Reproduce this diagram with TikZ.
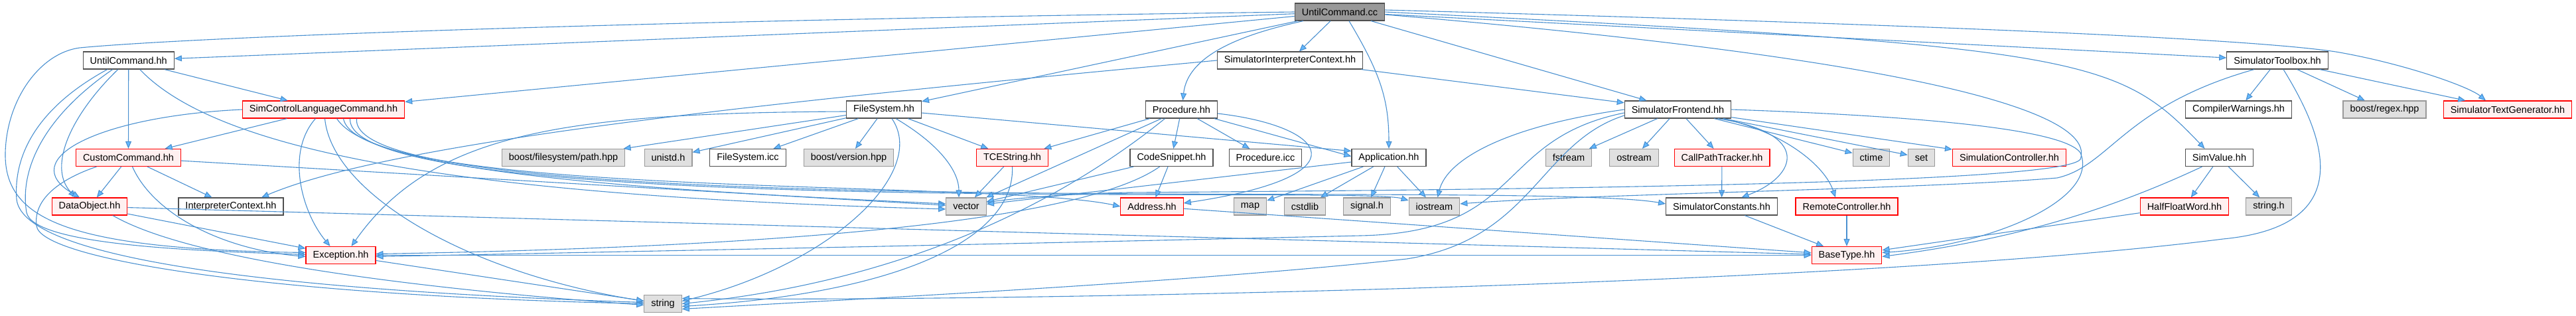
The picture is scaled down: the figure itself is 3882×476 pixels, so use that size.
\documentclass[tikz,border=0pt]{standalone}
\usepackage{fontspec}
\setmainfont{Liberation Sans}
\usetikzlibrary{positioning,arrows.meta}

\definecolor{edgeblue}{HTML}{4A90D0}
\definecolor{tipblue}{HTML}{63B8FF}
\definecolor{boxline}{HTML}{505050}
\definecolor{sysline}{HTML}{999999}
\definecolor{sysfill}{HTML}{E0E0E0}
\definecolor{truncfill}{HTML}{FFF0F0}
\definecolor{rootfill}{HTML}{999999}

\begin{document}
\begin{tikzpicture}[x=1pt,y=1pt,on grid,
    file/.style={rectangle,draw=boxline,fill=white,line width=1.2pt,
        minimum height=26pt,inner xsep=10.5pt,inner ysep=0pt,
        font=\fontsize{14.5}{17}\selectfont},
    sysfile/.style={file,draw=sysline,fill=sysfill},
    trunc/.style={file,draw=red,fill=truncfill},
    srcfile/.style={file,fill=rootfill},
    dep/.style={color=edgeblue,line width=1.1pt,
        -{Triangle[length=11pt,width=9pt,fill=tipblue]}}]
    \useasboundingbox (0,0) rectangle (3882,-476);

    % rows of files
    \node[srcfile] (r) at (2019,-18) {UntilCommand.cc};

    \node[file] (uch) at (193.75,-91) {UntilCommand.hh};
    \node[file] (sic) [right=1750.25pt of uch] {SimulatorInterpreterContext.hh};
    \node[file] (stb) [right=1488pt of sic] {SimulatorToolbox.hh};

    \node[trunc] (sclc) at (487.5,-165) {SimControlLanguageCommand.hh};
    \node[file] (fs) [right=844.5pt of sclc] {FileSystem.hh};
    \node[file] (proc) [right=448.5pt of fs] {Procedure.hh};
    \node[file] (sfe) [right=748pt of proc] {SimulatorFrontend.hh};
    \node[file] (cw) [right=845pt of sfe] {CompilerWarnings.hh};
    \node[sysfile] (rgx) [right=220pt of cw] {boost/regex.hpp};
    \node[trunc] (stg) [right=185.5pt of rgx] {SimulatorTextGenerator.hh};

    \node[trunc] (cc) at (193.5,-237.5) {CustomCommand.hh};
    \node[sysfile] (bfp) [right=655.5pt of cc] {boost/filesystem/path.hpp};
    \node[sysfile] (unistd) [right=158pt of bfp] {unistd.h};
    \node[file] (fsicc) [right=120pt of unistd] {FileSystem.icc};
    \node[sysfile] (bver) [right=152pt of fsicc] {boost/version.hpp};
    \node[trunc] (tces) [right=246.5pt of bver] {TCEString.hh};
    \node[file] (csn) [right=240pt of tces] {CodeSnippet.hh};
    \node[file] (picc) [right=141.5pt of csn] {Procedure.icc};
    \node[file] (app) [right=186pt of picc] {Application.hh};
    \node[sysfile] (fst) [right=271pt of app] {fstream};
    \node[sysfile] (ost) [right=98.5pt of fst] {ostream};
    \node[trunc] (cpt) [right=132.5pt of ost] {CallPathTracker.hh};
    \node[sysfile] (ctime) [right=225pt of cpt] {ctime};
    \node[sysfile] (nset) [right=75.5pt of ctime] {set};
    \node[trunc] (simc) [right=132.5pt of nset] {SimulationController.hh};
    \node[file] (sv) [right=316.5pt of simc] {SimValue.hh};

    \node[trunc] (dobj) at (135,-311) {DataObject.hh};
    \node[file] (ictx) [right=213pt of dobj] {InterpreterContext.hh};
    \node[sysfile] (vec) [right=1108pt of ictx] {vector};
    \node[trunc] (addr) [right=280pt of vec] {Address.hh};
    \node[sysfile] (map) [right=148pt of addr] {map};
    \node[sysfile] (cstd) [right=82.5pt of map] {cstdlib};
    \node[sysfile] (sig) [right=93.5pt of cstd] {signal.h};
    \node[sysfile] (ios) [right=101.5pt of sig] {iostream};
    \node[file] (scon) [right=433pt of ios] {SimulatorConstants.hh};
    \node[trunc] (rc) [right=188.5pt of scon] {RemoteController.hh};
    \node[trunc] (hfw) [right=509pt of rc] {HalfFloatWord.hh};
    \node[sysfile] (strh) [right=127pt of hfw] {string.h};

    \node[trunc] (exc) at (513.5,-384.5) {Exception.hh};
    \node[trunc] (bt) [right=2269.5pt of exc] {BaseType.hh};

    \node[sysfile] (str) at (999,-457.5) {string};

    % UntilCommand.cc
    \path[dep]
    (r) edge (uch)
        edge (sclc)
        edge (fs)
        edge (sic)
        edge (sfe)
        edge (stb);
    \draw[dep] ([xshift=-55pt]r.south) .. controls (1880,-50) and (1790,-80) .. ([xshift=2pt]proc.north);
    \draw[dep] ([xshift=14pt]r.south) .. controls (2080,-110) and (2093,-150) .. (app.north);
    \draw[dep] (r.east) .. controls (3140,-70) and (3190,-85) .. ([xshift=-22pt]sv.north);
    \draw[dep] ([yshift=3pt]r.east) .. controls (3000,-40) and (3400,-60) .. (3520,-78)
        .. controls (3620,-95) and (3720,-130) .. ([xshift=-33pt]stg.north);
    \draw[dep] ([yshift=-4pt]r.east) .. controls (2900,-90) and (3160,-170) .. (3135,-240)
        .. controls (3110,-275) and (2400,-285) .. (1700,-290)
        .. controls (1600,-292) and (1520,-300) .. ([yshift=6pt]vec.east);
    \draw[dep] (r.west) .. controls (1000,-30) and (300,-55) .. (120,-72)
        .. controls (60,-80) and (10,-150) .. (8,-230)
        .. controls (6,-330) and (100,-375) .. ([yshift=4pt]exc.west);

    % UntilCommand.hh
    \path[dep]
    (uch) edge (sclc)
          edge (cc);
    \draw[dep] ([xshift=17pt]uch.south) .. controls (330,-230) and (700,-295) .. ([yshift=-4pt]vec.west);
    \draw[dep] ([xshift=-16pt]uch.south) .. controls (110,-170) and (70,-250) .. ([xshift=-21pt]dobj.north);
    \draw[dep] ([xshift=-24pt]uch.south) .. controls (60,-180) and (30,-260) .. (40,-320)
        .. controls (50,-370) and (300,-378) .. ([yshift=1pt]exc.west);
    \draw[dep] ([xshift=-32pt]uch.south) .. controls (60,-160) and (20,-230) .. (25,-300)
        .. controls (35,-400) and (500,-440) .. ([yshift=2pt]str.west);

    % SimControlLanguageCommand.hh
    \path[dep] (sclc) edge (cc);
    \draw[dep] (sclc.west) .. controls (150,-175) and (20,-240) .. ([xshift=-15pt]dobj.north);
    \draw[dep] ([xshift=-12pt]sclc.south) .. controls (430,-230) and (455,-320) .. ([xshift=-16pt]exc.north);
    \draw[dep] ([xshift=2pt]sclc.south) .. controls (500,-290) and (700,-410) .. ([yshift=4pt]str.west);
    \draw[dep] ([xshift=20pt]sclc.south) .. controls (560,-260) and (950,-285) .. ([yshift=4pt]vec.west);
    \draw[dep] ([xshift=30pt]sclc.south) .. controls (540,-300) and (1500,-270) .. (addr.west);
    \draw[dep] ([xshift=40pt]sclc.south) .. controls (520,-330) and (2050,-280) .. ([yshift=9pt]ios.west);
    \draw[dep] ([xshift=50pt]sclc.south) .. controls (520,-340) and (2300,-270) .. ([yshift=4pt]scon.west);

    % CustomCommand.hh
    \path[dep]
    (cc) edge (dobj)
         edge (ictx)
         edge (vec);
    \draw[dep] ([xshift=6pt]cc.south) .. controls (230,-320) and (330,-375) .. ([yshift=-2pt]exc.west);
    \draw[dep] ([xshift=-48pt]cc.south) .. controls (90,-270) and (50,-300) .. (55,-340)
        .. controls (60,-390) and (400,-445) .. (str.west);

    % DataObject.hh, Exception.hh
    \path[dep]
    (dobj) edge (exc)
           edge (bt)
    (exc) edge (str)
          edge (bt);
    \draw[dep] ([xshift=35pt]dobj.south) .. controls (300,-400) and (700,-440) .. ([yshift=-2pt]str.west);

    % SimulatorInterpreterContext.hh
    \path[dep] (sic) edge (sfe);
    \draw[dep] (sic.west) .. controls (1200,-150) and (600,-210) .. ([xshift=46pt]ictx.north);

    % FileSystem.hh
    \path[dep]
    (fs) edge (bfp)
         edge (unistd)
         edge (fsicc)
         edge (bver)
         edge (tces)
         edge ([yshift=10pt]app.west);
    \draw[dep] ([xshift=18pt]fs.south) .. controls (1420,-220) and (1445,-260) .. ([xshift=-11pt]vec.north);
    \draw[dep] ([xshift=12pt]fs.south) .. controls (1400,-260) and (1250,-400) .. ([yshift=4pt]str.east);
    \draw[dep] ([yshift=-3pt]fs.west) .. controls (850,-170) and (650,-200) .. ([xshift=16pt]exc.north);

    % Procedure.hh
    \path[dep]
    (proc) edge (tces)
           edge (vec)
           edge (csn)
           edge (picc)
           edge ([yshift=2pt]app.west);
    \draw[dep] ([xshift=-25pt]proc.south) .. controls (1630,-280) and (1400,-420) .. (str.east);
    \draw[dep] ([yshift=-6pt]proc.east) .. controls (2000,-190) and (2060,-265) .. ([yshift=5pt]addr.east);

    % CodeSnippet.hh, TCEString.hh
    \path[dep]
    (csn) edge (vec)
          edge (addr)
    (tces) edge (vec);
    \draw[dep] ([xshift=-18pt]csn.south) .. controls (1650,-320) and (1300,-370) .. ([yshift=2pt]exc.east);
    \draw[dep] (tces.south) .. controls (1530,-350) and (1380,-440) .. ([yshift=-4pt]str.east);

    % Application.hh
    \path[dep]
    (app) edge (map)
          edge (cstd)
          edge (sig)
          edge (ios)
          edge (vec);

    % SimulatorFrontend.hh
    \path[dep]
    (sfe) edge (fst)
          edge (ost)
          edge (cpt)
          edge (ctime)
          edge (nset)
          edge (simc);
    \draw[dep] (sfe.west) .. controls (2270,-190) and (2180,-240) .. ([xshift=5pt]ios.north);
    \draw[dep] ([yshift=-5pt]sfe.west) .. controls (2250,-210) and (2300,-350) .. (2050,-355)
        .. controls (1500,-368) and (900,-380) .. ([yshift=-2pt]exc.east);
    \draw[dep] ([yshift=-9pt]sfe.west) .. controls (2320,-215) and (2310,-360) .. (2120,-390)
        .. controls (1800,-425) and (1300,-450) .. ([yshift=-8pt]str.east);
    \draw[dep] ([xshift=60pt]sfe.south) .. controls (2730,-200) and (2710,-265) .. ([xshift=30pt]scon.north);
    \draw[dep] ([xshift=68pt]sfe.south) .. controls (2690,-200) and (2750,-250) .. ([xshift=-17pt]rc.north);
    \draw[dep] (sfe.east) .. controls (2900,-175) and (3110,-195) .. (3135,-230)
        .. controls (3165,-300) and (3000,-370) .. ([yshift=4pt]bt.east);

    % lower files
    \path[dep]
    (cpt) edge (scon)
    (scon) edge (bt)
    (rc) edge (bt)
    (hfw) edge (bt)
    (addr) edge (bt);

    % SimulatorToolbox.hh
    \path[dep]
    (stb) edge (cw)
          edge (rgx)
          edge (stg);
    \draw[dep] ([xshift=-35pt]stb.south) .. controls (3200,-160) and (3180,-250) .. (3100,-268)
        .. controls (2900,-285) and (2400,-292) .. ([yshift=4pt]ios.east);
    \draw[dep] ([xshift=9pt]stb.south) .. controls (3500,-200) and (3560,-340) .. (3350,-360)
        .. controls (2800,-430) and (1500,-455) .. ([yshift=8pt]str.east);

    % SimValue.hh
    \path[dep]
    (sv) edge (hfw)
         edge (strh);
    \draw[dep] ([xshift=-26pt]sv.south) .. controls (3150,-330) and (3000,-365) .. ([yshift=-2pt]bt.east);
\end{tikzpicture}
\end{document}
